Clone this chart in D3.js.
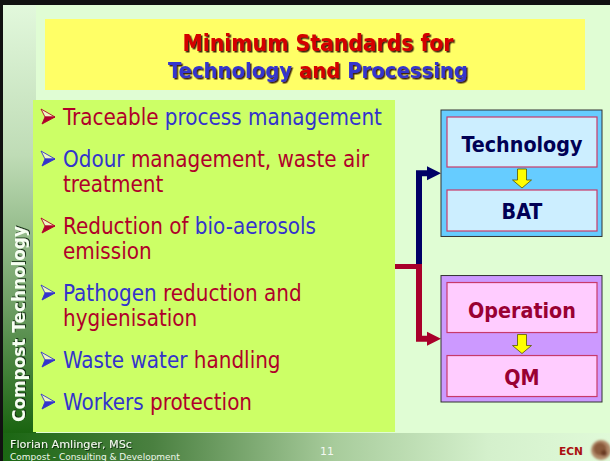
<!DOCTYPE html>
<html>
<head>
<meta charset="utf-8">
<script src="https://cdn.jsdelivr.net/npm/d3@7"></script>
<style>
body { margin: 0; background: #fff; }
svg { display: block; }
</style>
</head>
<body>
<div id="slide"></div>
<script>
// slide texts
var titleLines = [
  [["Minimum Standards for", "r"]],
  [["Technology ", "b"], ["and", "r"], [" Processing", "b"]]
];
var bullets = [
  [[["Traceable", "r"], [" process management", "b"]]],
  [[["Odour", "b"], [" management, waste air", "r"]], [["treatment", "r"]]],
  [[["Reduction of", "r"], [" bio-aerosols", "b"]], [["emission", "r"]]],
  [[["Pathogen", "b"], [" reduction and", "r"]], [["hygienisation", "r"]]],
  [[["Waste water", "b"], [" handling", "r"]]],
  [[["Workers", "b"], [" protection", "r"]]]
];
var boxTitles = ["Technology", "Operation"];
var boxResults = ["BAT", "QM"];
var sideLabel = "Compost Technology";
var footAuthor = "Florian Amlinger, MSc";
var footOrg = "Compost - Consulting & Development";
var pageNo = "11";
var logoText = "ECN";

var W = 610, H = 461;
var font = "'Comic Sans MS', 'DejaVu Sans', sans-serif";
var narrow = "'Comic Sans MS', 'DejaVu Sans Condensed', 'DejaVu Sans', sans-serif";

var titleColor = d3.scaleOrdinal().domain(["r", "b"]).range(["#d40000", "#3535cc"]);
var textColor = d3.scaleOrdinal().domain(["r", "b"]).range(["#b0002a", "#3333cc"]);
var boxFill = d3.scaleOrdinal().domain(boxTitles).range(["#66ccff", "#cc99ff"]);
var innerFill = d3.scaleOrdinal().domain(boxTitles).range(["#cceeff", "#ffccff"]);
var labelColor = d3.scaleOrdinal().domain(boxTitles).range(["#000055", "#990033"]);
var linkColor = d3.scaleOrdinal().domain(boxTitles).range(["#000066", "#a8002a"]);

// shrink or grow a text until it is as wide as in the slide
function fitWidth(sel, target) {
  var size = parseFloat(sel.attr("font-size"));
  var w = sel.node().getComputedTextLength();
  var s = size * target / w;
  sel.attr("font-size", s);
  return s;
}

var svg = d3.select("#slide").append("svg")
  .attr("width", W)
  .attr("height", H);

var defs = svg.append("defs");

var side = defs.append("linearGradient").attr("id", "side")
  .attr("x1", 0).attr("y1", 0).attr("x2", 0).attr("y2", 1);
side.append("stop").attr("offset", 0).attr("stop-color", "#e2f8dc");
side.append("stop").attr("offset", 0.35).attr("stop-color", "#bfdcb6");
side.append("stop").attr("offset", 0.7).attr("stop-color", "#6e9e64");
side.append("stop").attr("offset", 1).attr("stop-color", "#1a6410");

var foot = defs.append("linearGradient").attr("id", "foot")
  .attr("x1", 0).attr("y1", 0).attr("x2", 1).attr("y2", 0);
foot.append("stop").attr("offset", 0).attr("stop-color", "#1a6612");
foot.append("stop").attr("offset", 0.25).attr("stop-color", "#4a8040");
foot.append("stop").attr("offset", 0.55).attr("stop-color", "#a8cc9c");
foot.append("stop").attr("offset", 0.8).attr("stop-color", "#d4f0cc");
foot.append("stop").attr("offset", 1).attr("stop-color", "#e0fad8");

defs.append("filter").attr("id", "shadow")
  .attr("x", "-5%").attr("y", "-20%").attr("width", "115%").attr("height", "150%")
  .append("feDropShadow")
  .attr("dx", 1.5).attr("dy", 1.5).attr("stdDeviation", 0.4)
  .attr("flood-color", "#1a0000").attr("flood-opacity", 0.85);

defs.append("filter").attr("id", "soft")
  .append("feDropShadow")
  .attr("dx", 1).attr("dy", 1).attr("stdDeviation", 0.3)
  .attr("flood-color", "#0a2a08").attr("flood-opacity", 0.9);

defs.append("filter").attr("id", "blur")
  .append("feGaussianBlur").attr("stdDeviation", 1.2);

// background and frame
svg.append("rect").attr("width", W).attr("height", H).attr("fill", "#e0fdd4");
svg.append("rect").attr("x", 3).attr("y", 5).attr("width", 33).attr("height", 428)
  .attr("fill", "url(#side)");
svg.append("rect").attr("x", 0).attr("y", 433).attr("width", W).attr("height", H - 433)
  .attr("fill", "url(#foot)");
svg.append("rect").attr("x", 0).attr("y", 0).attr("width", W).attr("height", 5).attr("fill", "#111");
svg.append("rect").attr("x", 0).attr("y", 0).attr("width", 3).attr("height", H).attr("fill", "#111");

// title
svg.append("rect")
  .attr("x", 45).attr("y", 19).attr("width", 540).attr("height", 71)
  .attr("fill", "#ffff66");

var titleBase = [51, 78];
var titleWidth = [271, 300];
titleLines.forEach(function(line, i) {
  var t = svg.append("text")
    .attr("x", 318).attr("y", titleBase[i])
    .attr("text-anchor", "middle")
    .attr("font-family", narrow)
    .attr("font-weight", "bold")
    .attr("font-size", 20)
    .attr("filter", "url(#shadow)");
  t.selectAll("tspan").data(line).enter().append("tspan")
    .attr("fill", function(d) { return titleColor(d[1]); })
    .text(function(d) { return d[0]; });
  fitWidth(t, titleWidth[i]);
});

// bullet list
svg.append("rect")
  .attr("x", 33).attr("y", 100).attr("width", 362).attr("height", 332)
  .attr("fill", "#ccff66");

var rows = [];
var lc = 0;
bullets.forEach(function(b, i) {
  b.forEach(function(line, j) {
    rows.push({bullet: i, first: j === 0, segs: line, pos: lc + i * 0.68, key: b[0][0][1]});
    lc++;
  });
});
var yRow = d3.scaleLinear().domain([0, 1]).range([125, 150]);

var rowText = svg.selectAll(".row").data(rows).enter().append("text")
  .attr("class", "row")
  .attr("x", 63)
  .attr("y", function(d) { return yRow(d.pos); })
  .attr("font-family", narrow)
  .attr("font-size", 20);
rowText.selectAll("tspan").data(function(d) { return d.segs; }).enter().append("tspan")
  .attr("fill", function(d) { return textColor(d[1]); })
  .text(function(d) { return d[0]; });
var bulletSize = fitWidth(d3.select(rowText.nodes()[0]), 319);
rowText.attr("font-size", bulletSize);

var marks = svg.selectAll(".mark").data(rows.filter(function(d) { return d.first; }))
  .enter().append("g")
  .attr("class", "mark")
  .attr("transform", function(d) { return "translate(41," + yRow(d.pos) + ")"; });
marks.append("path")
  .attr("d", "M0,-16L14,-8L4,-8Z")
  .attr("fill", "#eef8c0")
  .attr("stroke", function(d) { return textColor(d.key); })
  .attr("stroke-width", 0.9)
  .attr("stroke-linejoin", "round");
marks.append("path")
  .attr("d", "M14,-8L4,-8L1,-1Z")
  .attr("fill", function(d) { return textColor(d.key); })
  .attr("stroke", function(d) { return textColor(d.key); })
  .attr("stroke-width", 0.9)
  .attr("stroke-linejoin", "round");

// side label
var sideText = svg.append("text")
  .attr("transform", "translate(25,324) rotate(-90)")
  .attr("text-anchor", "middle")
  .attr("font-family", font)
  .attr("font-weight", "bold")
  .attr("font-size", 16)
  .attr("fill", "#f6fff2")
  .attr("filter", "url(#soft)")
  .text(sideLabel);
fitWidth(sideText, 196);

// right-hand boxes
var yBox = d3.scaleBand().domain(boxTitles).range([110, 402]).paddingInner(0.236);
var bx0 = 441, bx1 = 602, ix0 = 447, ix1 = 597, cx = (ix0 + ix1) / 2;
var joinX = 419, joinY = 266.5;

// connectors: blue first, red over it
boxTitles.forEach(function(k) {
  var tipY = yBox(k) + yBox.bandwidth() / 2;
  svg.append("path")
    .attr("d", d3.line()([[joinX, joinY], [joinX, tipY], [428, tipY]]))
    .attr("fill", "none")
    .attr("stroke", linkColor(k))
    .attr("stroke-width", 6);
  svg.append("path")
    .attr("d", d3.line()([[427, tipY - 7], [bx0, tipY], [427, tipY + 7]]) + "Z")
    .attr("fill", linkColor(k));
});
svg.append("path")
  .attr("d", d3.line()([[395, joinY], [joinX + 3, joinY]]))
  .attr("stroke", linkColor(boxTitles[1]))
  .attr("stroke-width", 5);

var boxes = svg.selectAll(".box").data(boxTitles).enter().append("g")
  .attr("class", "box")
  .attr("transform", function(d) { return "translate(0," + yBox(d) + ")"; });

boxes.append("rect")
  .attr("x", bx0).attr("y", 0)
  .attr("width", bx1 - bx0).attr("height", yBox.bandwidth())
  .attr("fill", function(d) { return boxFill(d); })
  .attr("stroke", "#333")
  .attr("stroke-width", 1);
boxes.append("rect")
  .attr("x", ix0).attr("y", 7)
  .attr("width", ix1 - ix0).attr("height", 50)
  .attr("fill", function(d) { return innerFill(d); })
  .attr("stroke", "#c83a6a")
  .attr("stroke-width", 1.2);
boxes.append("rect")
  .attr("x", ix0).attr("y", 80)
  .attr("width", ix1 - ix0).attr("height", 41)
  .attr("fill", function(d) { return innerFill(d); })
  .attr("stroke", "#c83a6a")
  .attr("stroke-width", 1.2);
boxes.append("path")
  .attr("d", d3.line()([[cx - 4.5, 59], [cx + 4.5, 59], [cx + 4.5, 70], [cx + 9.5, 70],
    [cx, 78], [cx - 9.5, 70], [cx - 4.5, 70]]) + "Z")
  .attr("fill", "#ffff00")
  .attr("stroke", "#555500")
  .attr("stroke-width", 0.8);

var heads = boxes.append("text")
  .attr("x", cx).attr("y", 42)
  .attr("text-anchor", "middle")
  .attr("font-family", narrow)
  .attr("font-weight", "bold")
  .attr("font-size", 20)
  .attr("fill", function(d) { return labelColor(d); })
  .text(function(d) { return d; });
var headSize = fitWidth(d3.select(heads.nodes()[0]), 121);
heads.attr("font-size", headSize);

boxes.append("text")
  .attr("x", cx).attr("y", 109)
  .attr("text-anchor", "middle")
  .attr("font-family", narrow)
  .attr("font-weight", "bold")
  .attr("font-size", headSize)
  .attr("fill", function(d) { return labelColor(d); })
  .text(function(d, i) { return boxResults[i]; });

// footer
var fa = svg.append("text")
  .attr("x", 10).attr("y", 448)
  .attr("font-family", font)
  .attr("font-size", 12)
  .attr("fill", "#f2faee")
  .attr("filter", "url(#soft)")
  .text(footAuthor);
fitWidth(fa, 122);
var fo = svg.append("text")
  .attr("x", 10).attr("y", 460)
  .attr("font-family", font)
  .attr("font-size", 9)
  .attr("fill", "#eef8ea")
  .text(footOrg);
fitWidth(fo, 170);
svg.append("text")
  .attr("x", 327).attr("y", 455)
  .attr("text-anchor", "middle")
  .attr("font-family", font)
  .attr("font-size", 11)
  .attr("fill", "#f4f8f2")
  .text(pageNo);
var ecn = svg.append("text")
  .attr("x", 559).attr("y", 455)
  .attr("font-family", "'DejaVu Sans', sans-serif")
  .attr("font-weight", "bold")
  .attr("font-size", 11)
  .attr("fill", "#aa1111")
  .text(logoText);
fitWidth(ecn, 24);

// compost heap logo
var logo = svg.append("g").attr("filter", "url(#blur)");
logo.append("circle").attr("cx", 601).attr("cy", 450).attr("r", 10).attr("fill", "#b08868");
logo.append("circle").attr("cx", 600).attr("cy", 449).attr("r", 6.5).attr("fill", "#8a5a3a");
logo.append("circle").attr("cx", 604).attr("cy", 453).attr("r", 3).attr("fill", "#6a3a22");
</script>
</body>
</html>
